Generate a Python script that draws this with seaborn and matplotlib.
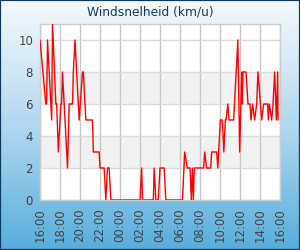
import numpy as np
import pandas as pd
import matplotlib
matplotlib.use("Agg")
import matplotlib.pyplot as plt
import matplotlib.dates as mdates
from matplotlib.colors import LinearSegmentedColormap
import seaborn as sns

# wind speed readings (km/u), 16:00 -> 16:00 next day
times = ["16:00", "16:35", "16:40", "16:45", "17:10", "17:15", "17:35", "17:40",
         "17:50", "18:05", "18:10", "18:15", "18:45", "18:55", "19:15", "19:20",
         "19:30", "19:55", "20:15", "20:20", "20:35", "21:15", "21:20", "21:55",
         "22:00", "22:25", "22:35", "22:45", "22:55", "23:05", "02:00", "02:10",
         "02:15", "03:20", "03:25", "03:35", "03:50", "04:00", "04:25", "04:35",
         "06:15", "06:28", "06:44", "07:00", "07:08", "07:14", "07:20", "07:26",
         "08:22", "08:28", "08:40", "09:04", "09:10", "09:40", "09:47", "10:02",
         "10:14", "10:23", "10:32", "10:36", "10:47", "10:54", "11:22", "11:47",
         "11:58", "12:10", "12:14", "12:18", "12:36", "12:48", "13:00", "13:06",
         "13:16", "13:28", "13:40", "13:48", "14:10", "14:22", "14:46", "14:50",
         "14:56", "15:10", "15:18", "15:28", "15:38", "15:46", "15:48"]
speeds = [10, 6, 6, 10, 5, 11, 6, 6,
          3, 6, 6, 8, 2, 6, 6, 8,
          10, 5, 8, 8, 5, 5, 3, 3,
          2, 2, 0, 2, 2, 0, 0, 2,
          0, 0, 2, 0, 0, 2, 2, 0,
          0, 3, 2, 2, 0, 2, 0, 2,
          2, 3, 2, 2, 3, 3, 2, 5,
          5, 3, 5, 5, 6, 5, 5, 10,
          3, 8, 6, 8, 8, 6, 6, 5,
          6, 5, 6, 8, 5, 6, 6, 5,
          6, 5, 6, 8, 5, 8, 5]

yticks = [0, 2, 4, 6, 8, 10]
title = "Windsnelheid (km/u)"

start = pd.Timestamp("2024-01-01 16:00")
stamps = []
day = 0
prev = None
for t in times:
    ts = pd.Timestamp("2024-01-01 " + t)
    if prev is not None and ts + pd.Timedelta(days=day) < prev:
        day += 1
    cur = ts + pd.Timedelta(days=day)
    stamps.append(cur)
    prev = cur
df = pd.DataFrame({"tijd": stamps, "wind": speeds})

sns.set_style("white")
plt.rcParams["font.family"] = ["DejaVu Sans"]

fig = plt.figure(figsize=(3, 2.5), dpi=100)

# gradient background
bg = fig.add_axes([0, 0, 1, 1], zorder=-10)
cmap = LinearSegmentedColormap.from_list(
    "bg", [(0, "#58addc"), (0.45, "#a9d4ee"), (0.8, "#dcedf7"), (1, "#f5f9fc")])
bg.imshow(np.linspace(0, 1, 256).reshape(-1, 1), aspect="auto", cmap=cmap,
          extent=[0, 1, 0, 1])
bg.set_xlim(0, 1)
bg.set_ylim(1, 0)
bg.axis("off")
fig.patches.append(plt.Rectangle((0, 0), 1, 1, transform=fig.transFigure,
                                 fill=False, edgecolor="#0b3a60", linewidth=1.6))

fig.text(0.5, 0.952, title, ha="center", va="center", fontsize=8.8,
         color="#173a5e")

ax = fig.add_axes([40 / 300, 50 / 250, 240 / 300, 176 / 250])
ax.set_facecolor("white")
ax.axhspan(2, 4, color="#f2f2f2", zorder=0, lw=0)
ax.axhspan(6, 8, color="#f2f2f2", zorder=0, lw=0)

sns.lineplot(data=df, x="tijd", y="wind", ax=ax, color="#ff0000", linewidth=1,
             zorder=3)

ax.set_xlim(start, start + pd.Timedelta(hours=24))
ax.set_ylim(0, 11)
ax.set_yticks(yticks)
ax.xaxis.set_major_locator(mdates.HourLocator(byhour=range(0, 24, 2)))
ax.xaxis.set_major_formatter(mdates.DateFormatter("%H:%M"))
ax.grid(axis="y", color="#dcdcdc", linewidth=1, zorder=1)
ax.grid(axis="x", color="#c8c8c8", linewidth=1, zorder=1)
ax.set_axisbelow(True)
ax.tick_params(axis="both", length=0, labelsize=8.5, labelcolor="#444444", pad=5)
ax.tick_params(axis="x", labelrotation=90, pad=6)
ax.set_xlabel("")
ax.set_ylabel("")
for s in ax.spines.values():
    s.set_color("#cccccc")
    s.set_linewidth(1)

fig.savefig("out.png", dpi=100)
